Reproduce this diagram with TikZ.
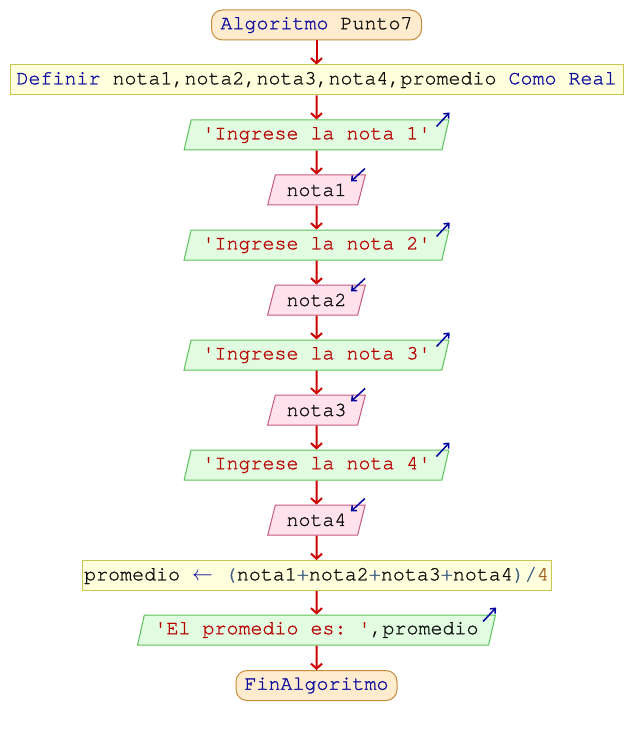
\documentclass[tikz,border=0pt]{standalone}
\usepackage{fontspec}
\setmonofont{TeX Gyre Cursor}[Ligatures={NoCommon,NoRequired,NoContextual},FakeBold=1.2]
\usetikzlibrary{shapes.geometric,arrows.meta,calc}
\definecolor{kwc}{RGB}{10,10,160}
\definecolor{strc}{RGB}{185,0,0}
\definecolor{varc}{RGB}{15,15,15}
\definecolor{opc}{RGB}{60,90,130}
\definecolor{numc}{RGB}{160,95,35}
\definecolor{termf}{RGB}{255,235,205}
\definecolor{termd}{RGB}{200,140,60}
\definecolor{procf}{RGB}{255,255,221}
\definecolor{procd}{RGB}{200,200,80}
\definecolor{outf}{RGB}{225,252,225}
\definecolor{outd}{RGB}{90,195,90}
\definecolor{inf}{RGB}{255,226,236}
\definecolor{ind}{RGB}{200,90,130}
\definecolor{flowc}{RGB}{204,0,0}
\definecolor{iconc}{RGB}{0,0,160}
\begin{document}
\begin{tikzpicture}[x=1pt,y=-1pt,
  base/.style={inner sep=0pt, minimum height=30pt, font=\fontsize{20}{24}\selectfont\ttfamily, line width=1pt, text=varc},
  term/.style={base, draw=termd, fill=termf, rounded corners=11pt},
  proc/.style={base, draw=procd, fill=procf},
  outp/.style={base, trapezium, trapezium left angle=68.2, trapezium right angle=111.8, trapezium stretches=true, draw=outd, fill=outf, minimum width=265pt},
  inp/.style={base, trapezium, trapezium left angle=66, trapezium right angle=114, trapezium stretches=true, draw=ind, fill=inf, minimum width=98pt},
  flow/.style={draw=flowc, line width=2pt, -{Straight Barb[length=5pt,width=11pt]}},
  icon/.style={draw=iconc, line width=1.5pt, -{Straight Barb[length=4pt,width=7pt]}}
]
\useasboundingbox (0,0) rectangle (632,735);
\fill[white] (0,0) rectangle (632,735);

\node[term, minimum width=210pt] (start) at (316.5,25) {\textcolor{kwc}{Algoritmo} Punto7};
\node[proc, minimum width=613pt] (def) at (316.5,80) {\textcolor{kwc}{Definir} nota1,nota2,nota3,nota4,promedio \textcolor{kwc}{Como Real}};
\node[outp] (o1) at (316.5,135) {\textcolor{strc}{'Ingrese la nota 1'}};
\node[inp] (i1) at (316.5,190) {nota1};
\node[outp] (o2) at (316.5,245) {\textcolor{strc}{'Ingrese la nota 2'}};
\node[inp] (i2) at (316.5,300) {nota2};
\node[outp] (o3) at (316.5,355) {\textcolor{strc}{'Ingrese la nota 3'}};
\node[inp] (i3) at (316.5,410) {nota3};
\node[outp] (o4) at (316.5,465) {\textcolor{strc}{'Ingrese la nota 4'}};
\node[inp] (i4) at (316.5,520) {nota4};
\node[proc, minimum width=469pt] (asg) at (316.5,575.5) {promedio \textcolor{kwc}{$\leftarrow$} \textcolor{opc}{(}nota1\textcolor{opc}{+}nota2\textcolor{opc}{+}nota3\textcolor{opc}{+}nota4\textcolor{opc}{)/}\textcolor{numc}{4}};
\node[outp, minimum width=359pt] (o5) at (316.5,630) {\textcolor{strc}{'El promedio es: '},promedio};
\node[term, minimum width=161pt] (end) at (316.5,685.5) {\textcolor{kwc}{FinAlgoritmo}};

\foreach \a/\b in {start/def, def/o1, o1/i1, i1/o2, o2/i2, i2/o3, o3/i3, i3/o4, o4/i4, i4/asg, asg/o5, o5/end}
  \draw[flow] (\a.south) -- (\b.north);

\foreach \o in {o1,o2,o3,o4,o5}
  \draw[icon] ($(\o.top right corner)+(-13,7)$) -- ($(\o.top right corner)+(0,-7)$);
\foreach \i in {i1,i2,i3,i4}
  \draw[icon] ($(\i.top right corner)+(-1,-6)$) -- ($(\i.top right corner)+(-15,7)$);
\end{tikzpicture}
\end{document}
